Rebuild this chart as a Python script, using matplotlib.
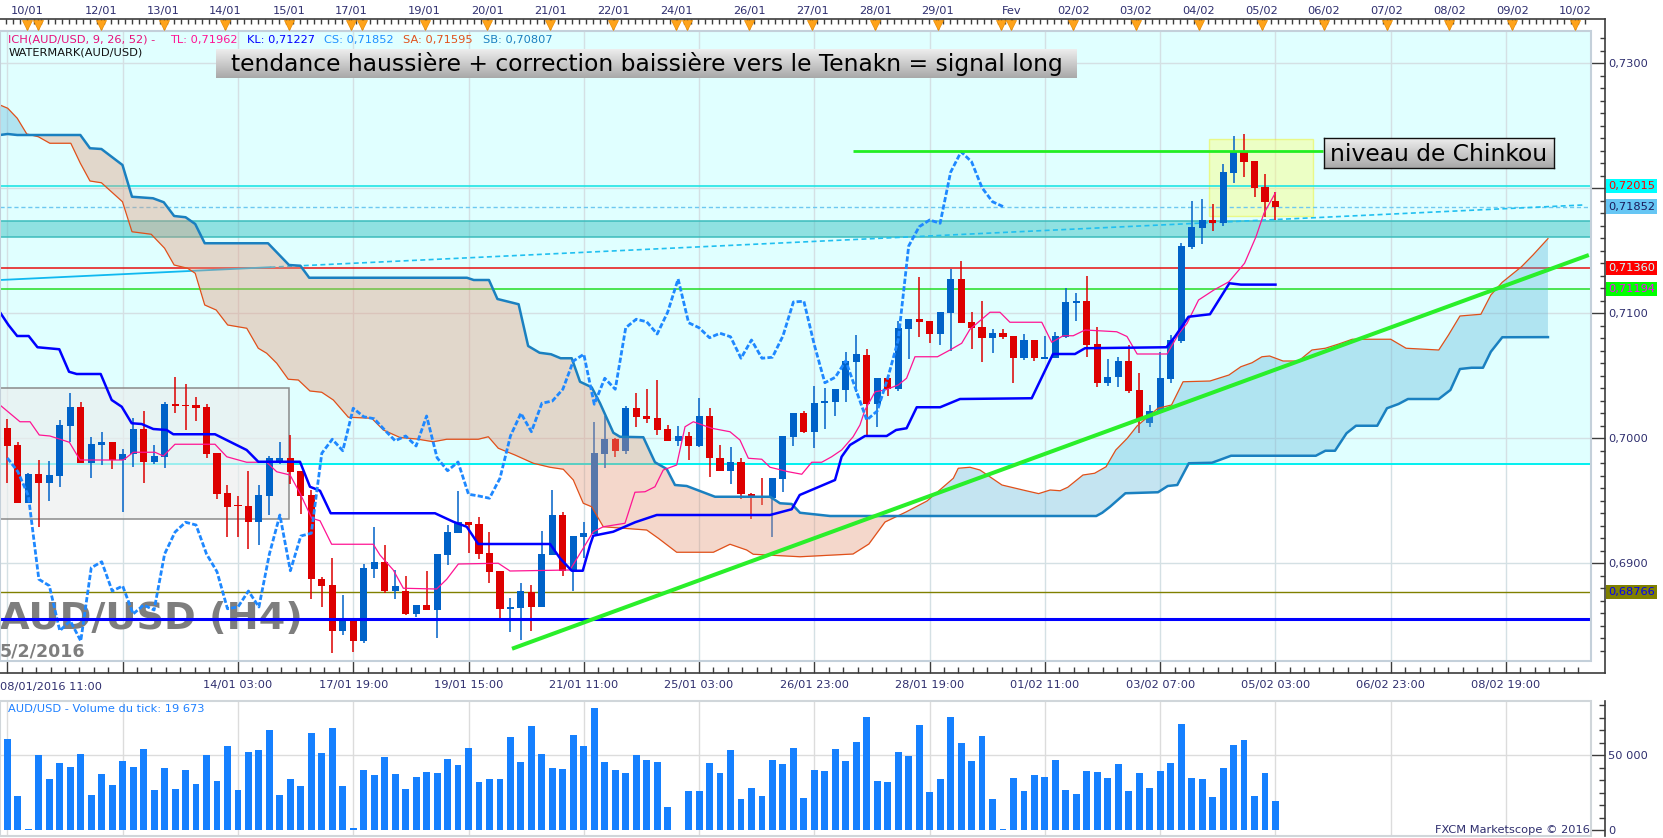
import numpy as np
import matplotlib
matplotlib.use("Agg")
import matplotlib.pyplot as plt
from matplotlib.lines import Line2D
from matplotlib.patches import Rectangle
from matplotlib.ticker import FixedLocator, MultipleLocator, FuncFormatter
from matplotlib.transforms import blended_transform_factory

W, H, DPI = 1663, 838, 100
PT = 72 / DPI  # points per pixel

INK = "#3c3c3c"
LABEL = "#2e2e6e"
UP = "#0062c8"
DOWN = "#dd0000"

# ---------------- AUD/USD H4 candles ----------------
opens = [0.70078, 0.69944, 0.69482, 0.69712, 0.69642, 0.69698, 0.70098, 0.70248, 0.69802, 0.69946,
         0.69968, 0.69824, 0.69872, 0.70072, 0.69810, 0.69850, 0.70272, 0.70264, 0.70262, 0.70248,
         0.69880, 0.69560, 0.69462, 0.69456, 0.69330, 0.69538, 0.69806, 0.69840, 0.69736, 0.69546,
         0.68872, 0.68824, 0.68458, 0.68536, 0.68376, 0.68952, 0.69010, 0.68776, 0.68778, 0.68592,
         0.68664, 0.68624, 0.69066, 0.69240, 0.69326, 0.69312, 0.69082, 0.68938, 0.68634, 0.68640,
         0.68770, 0.68648, 0.69064, 0.69382, 0.68938, 0.69210, 0.69232, 0.69872, 0.69990, 0.69898,
         0.70238, 0.70176, 0.70160, 0.70070, 0.69978, 0.70016, 0.69936, 0.70176, 0.69842, 0.69738,
         0.69808, 0.69552, 0.69530, 0.69518, 0.69674, 0.70010, 0.70198, 0.70050, 0.70278, 0.70290,
         0.70384, 0.70610, 0.70664, 0.70270, 0.70478, 0.70390, 0.70872, 0.70950, 0.70936, 0.70832,
         0.71002, 0.71272, 0.70926, 0.70890, 0.70802, 0.70838, 0.70816, 0.70638, 0.70784, 0.70634,
         0.70642, 0.70810, 0.71082, 0.71096, 0.70752, 0.70442, 0.70486, 0.70618, 0.70384, 0.70122,
         0.70210, 0.70470, 0.70776, 0.71530, 0.71682, 0.71744, 0.71718, 0.72122, 0.72290, 0.72216,
         0.72008, 0.71896]
highs = [0.70150, 0.69968, 0.69717, 0.69824, 0.69816, 0.70144, 0.70360, 0.70290, 0.70010, 0.70048,
         0.69970, 0.69910, 0.70158, 0.70218, 0.69944, 0.70288, 0.70488, 0.70432, 0.70330, 0.70272,
         0.69880, 0.69624, 0.69538, 0.69736, 0.69624, 0.69856, 0.69968, 0.70022, 0.69736, 0.69584,
         0.68886, 0.69038, 0.68744, 0.68536, 0.68992, 0.69286, 0.69142, 0.68944, 0.68896, 0.68664,
         0.68936, 0.69072, 0.69304, 0.69576, 0.69326, 0.69370, 0.69248, 0.68938, 0.68718, 0.68838,
         0.68824, 0.69256, 0.69584, 0.69406, 0.69216, 0.69326, 0.70126, 0.70176, 0.70000, 0.70256,
         0.70358, 0.70390, 0.70464, 0.70108, 0.70096, 0.70050, 0.70322, 0.70242, 0.69944, 0.69926,
         0.69842, 0.69560, 0.69678, 0.69678, 0.70016, 0.70198, 0.70216, 0.70416, 0.70398, 0.70390,
         0.70690, 0.70824, 0.70712, 0.70478, 0.70478, 0.70938, 0.70950, 0.71290, 0.70936, 0.71006,
         0.71352, 0.71416, 0.71010, 0.71096, 0.70872, 0.70872, 0.70816, 0.70832, 0.70784, 0.70816,
         0.70848, 0.71202, 0.71158, 0.71296, 0.70890, 0.70630, 0.70650, 0.70744, 0.70518, 0.70264,
         0.70690, 0.70824, 0.71560, 0.71898, 0.71912, 0.71872, 0.72190, 0.72416, 0.72432, 0.72216,
         0.72112, 0.71966]
lows = [0.69642, 0.69480, 0.69480, 0.69286, 0.69498, 0.69610, 0.69970, 0.69800, 0.69682, 0.69786,
        0.69750, 0.69410, 0.69770, 0.69642, 0.69792, 0.69758, 0.70202, 0.70066, 0.70138, 0.69842,
        0.69514, 0.69210, 0.69206, 0.69114, 0.69146, 0.69386, 0.69790, 0.69634, 0.69394, 0.68714,
        0.68650, 0.68282, 0.68426, 0.68290, 0.68362, 0.68882, 0.68758, 0.68714, 0.68584, 0.68570,
        0.68624, 0.68402, 0.68986, 0.69240, 0.69078, 0.69030, 0.68842, 0.68558, 0.68450, 0.68384,
        0.68460, 0.68648, 0.69064, 0.68898, 0.68778, 0.69040, 0.69230, 0.69762, 0.69850, 0.69872,
        0.70090, 0.70118, 0.70024, 0.69978, 0.69936, 0.69824, 0.69926, 0.69690, 0.69738, 0.69632,
        0.69510, 0.69354, 0.69464, 0.69206, 0.69570, 0.69934, 0.70040, 0.69922, 0.70072, 0.70176,
        0.70290, 0.70370, 0.70024, 0.70090, 0.70336, 0.70380, 0.70630, 0.70810, 0.70762, 0.70744,
        0.70698, 0.70922, 0.70712, 0.70606, 0.70682, 0.70790, 0.70442, 0.70624, 0.70616, 0.70634,
        0.70640, 0.70798, 0.70938, 0.70650, 0.70410, 0.70416, 0.70410, 0.70358, 0.70042, 0.70086,
        0.70210, 0.70438, 0.70760, 0.71510, 0.71550, 0.71656, 0.71700, 0.72042, 0.72090, 0.71930,
        0.71770, 0.71744]
closes = [0.69938, 0.69482, 0.69712, 0.69642, 0.69704, 0.70104, 0.70248, 0.69802, 0.69950, 0.69966,
          0.69824, 0.69872, 0.70072, 0.69810, 0.69856, 0.70272, 0.70258, 0.70256, 0.70242, 0.69874,
          0.69554, 0.69450, 0.69454, 0.69330, 0.69544, 0.69838, 0.69840, 0.69730, 0.69538, 0.68870,
          0.68818, 0.68458, 0.68538, 0.68376, 0.68962, 0.69010, 0.68776, 0.68816, 0.68592, 0.68664,
          0.68624, 0.69072, 0.69248, 0.69326, 0.69304, 0.69072, 0.68930, 0.68634, 0.68648, 0.68776,
          0.68648, 0.69072, 0.69384, 0.68938, 0.69216, 0.69238, 0.69878, 0.69990, 0.69898, 0.70238,
          0.70170, 0.70154, 0.70064, 0.69978, 0.70016, 0.69936, 0.70176, 0.69842, 0.69738, 0.69808,
          0.69550, 0.69536, 0.69518, 0.69678, 0.70016, 0.70198, 0.70050, 0.70278, 0.70296, 0.70390,
          0.70616, 0.70670, 0.70270, 0.70478, 0.70390, 0.70882, 0.70950, 0.70930, 0.70832, 0.71006,
          0.71272, 0.70922, 0.70882, 0.70802, 0.70838, 0.70810, 0.70638, 0.70784, 0.70638, 0.70646,
          0.70816, 0.71088, 0.71094, 0.70744, 0.70442, 0.70486, 0.70618, 0.70378, 0.70144, 0.70216,
          0.70478, 0.70784, 0.71536, 0.71690, 0.71744, 0.71718, 0.72126, 0.72290, 0.72210, 0.72002,
          0.71890, 0.71852]
volumes = [61200, 23000, 500, 50200, 34200, 44900, 42400, 50900, 23700, 37500,
           30100, 46200, 42400, 54500, 26800, 41500, 27500, 40200, 30800, 50200,
           32800, 56300, 26800, 52200, 53600, 67000, 23700, 34200, 29500, 65000,
           51600, 68300, 29500, 1100, 40200, 36800, 48900, 37500, 27500, 35500,
           38800, 38200, 47500, 43500, 54900, 32100, 34200, 34200, 62300, 45500,
           69600, 50900, 41500, 40800, 63600, 56300, 81700, 45500, 40200, 38200,
           50200, 46900, 45500, 15400, 300, 26100, 26100, 44900, 38200, 53600,
           20800, 28100, 22800, 46900, 44200, 54900, 21400, 40200, 39500, 54200,
           46200, 58900, 75700, 32800, 32100, 52200, 49600, 70300, 25400, 34200,
           75700, 58300, 46200, 62900, 20800, 700, 34800, 26100, 36800, 35500,
           46900, 26800, 24100, 39500, 38800, 34800, 44200, 26100, 38200, 28100,
           39500, 44900, 71000, 34800, 34200, 22100, 41500, 56900, 60300, 22800,
           38200, 19673]

# ---------------- Ichimoku lines as (candle index, price) vertices ----------------
tenkan = [(-0.71, 0.70264), (1.20, 0.70130), (2.16, 0.70130), (3.04, 0.70024), (4.06, 0.70016),
          (4.95, 0.69992), (5.91, 0.69966), (6.93, 0.69824), (11.06, 0.69824), (12.01, 0.69886),
          (14.08, 0.69886), (14.88, 0.69856), (15.99, 0.69950), (19.81, 0.69950), (20.93, 0.69850),
          (22.83, 0.69806), (24.74, 0.69806), (25.70, 0.69730), (26.97, 0.69704), (27.92, 0.69558),
          (29.04, 0.69358), (29.83, 0.69338), (30.94, 0.69150), (34.91, 0.69150), (35.55, 0.69064),
          (36.82, 0.68944), (37.78, 0.68798), (40.96, 0.68792), (41.92, 0.68870), (43.03, 0.68992),
          (46.84, 0.68998), (47.96, 0.68936), (53.68, 0.68944), (55.90, 0.69250), (56.86, 0.69290),
          (58.93, 0.69318), (59.88, 0.69566), (60.84, 0.69570), (61.79, 0.69610), (62.58, 0.69744),
          (63.86, 0.69784), (64.66, 0.70090), (65.45, 0.70130), (67.20, 0.70078), (68.95, 0.70050),
          (69.90, 0.69984), (70.70, 0.69838), (71.98, 0.69830), (72.77, 0.69766), (74.52, 0.69730),
          (75.80, 0.69710), (76.75, 0.69806), (77.70, 0.69806), (78.65, 0.69850), (79.60, 0.69904),
          (80.70, 0.70010), (81.35, 0.70104), (81.83, 0.70224), (82.80, 0.70370), (83.74, 0.70384),
          (85.00, 0.70424), (85.80, 0.70478), (86.60, 0.70650), (88.75, 0.70650), (89.94, 0.70704),
          (91.06, 0.70758), (91.85, 0.70870), (93.76, 0.71006), (94.71, 0.71006), (95.66, 0.70926),
          (98.70, 0.70926), (99.65, 0.70766), (100.75, 0.70818), (101.70, 0.70818), (102.83, 0.70864),
          (105.85, 0.70850), (106.83, 0.70812), (107.80, 0.70672), (110.65, 0.70672), (111.80, 0.70838),
          (112.56, 0.70918), (113.66, 0.71104), (115.12, 0.71184), (116.56, 0.71250), (118.05, 0.71398),
          (119.14, 0.71610), (119.90, 0.71798), (121.00, 0.71962)]
kijun = [(-0.71, 0.71006), (0.10, 0.70904), (0.93, 0.70816), (2.03, 0.70816), (2.87, 0.70726),
         (4.95, 0.70710), (5.88, 0.70530), (6.61, 0.70512), (8.90, 0.70512), (9.95, 0.70304),
         (10.91, 0.70250), (11.86, 0.70118), (12.81, 0.70112), (13.92, 0.70072), (15.20, 0.70064),
         (15.83, 0.70030), (19.81, 0.70030), (21.53, 0.69958), (22.83, 0.69904), (23.94, 0.69810),
         (27.92, 0.69810), (28.87, 0.69610), (29.83, 0.69578), (30.85, 0.69398), (40.80, 0.69398),
         (42.55, 0.69330), (43.83, 0.69290), (44.93, 0.69152), (51.78, 0.69152), (52.73, 0.69038),
         (53.85, 0.68938), (54.90, 0.68938), (55.60, 0.69144), (55.90, 0.69218), (57.80, 0.69250),
         (59.90, 0.69326), (61.96, 0.69384), (72.77, 0.69384), (74.84, 0.69430), (75.60, 0.69544),
         (78.97, 0.69664), (79.60, 0.69850), (80.40, 0.69944), (81.83, 0.70016), (83.90, 0.70016),
         (84.80, 0.70064), (85.80, 0.70078), (86.77, 0.70246), (89.00, 0.70246), (90.90, 0.70312),
         (97.74, 0.70318), (99.77, 0.70672), (101.87, 0.70672), (102.82, 0.70718), (110.60, 0.70726),
         (111.40, 0.70810), (112.70, 0.70970), (114.75, 0.70990), (116.60, 0.71238), (117.70, 0.71227),
         (121.00, 0.71227)]
senkou_a = [(-0.71, 0.72664), (0.03, 0.72638), (0.94, 0.72558), (1.85, 0.72432), (2.95, 0.72410),
            (4.05, 0.72358), (6.05, 0.72358), (6.96, 0.72198), (7.88, 0.72056), (8.97, 0.72042),
            (10.98, 0.71890), (11.89, 0.71650), (13.72, 0.71630), (15.00, 0.71518), (15.91, 0.71384),
            (17.19, 0.71358), (17.92, 0.71318), (18.83, 0.71064), (19.92, 0.71024), (21.02, 0.70904),
            (22.84, 0.70878), (23.94, 0.70718), (24.74, 0.70678), (25.70, 0.70598), (26.80, 0.70470),
            (27.76, 0.70464), (28.87, 0.70376), (29.99, 0.70366), (31.10, 0.70304), (32.53, 0.70166),
            (34.76, 0.70158), (35.87, 0.70064), (37.46, 0.70004), (39.05, 0.69992), (40.64, 0.69970),
            (41.92, 0.69990), (44.93, 0.69990), (45.89, 0.70010), (46.84, 0.69918), (48.43, 0.69864),
            (50.18, 0.69798), (51.77, 0.69766), (53.04, 0.69750), (54.00, 0.69664), (54.95, 0.69478),
            (55.75, 0.69450), (56.86, 0.69290), (61.00, 0.69264), (62.11, 0.69198), (63.86, 0.69086),
            (67.36, 0.69086), (68.95, 0.69150), (70.54, 0.69104), (71.17, 0.69070), (75.63, 0.69050),
            (80.69, 0.69072), (82.20, 0.69152), (83.74, 0.69328), (85.74, 0.69408), (87.75, 0.69496),
            (90.26, 0.69678), (90.73, 0.69758), (91.85, 0.69766), (92.80, 0.69744), (94.90, 0.69624),
            (96.90, 0.69584), (98.40, 0.69555), (99.50, 0.69584), (100.45, 0.69578), (101.18, 0.69606),
            (102.63, 0.69704), (103.74, 0.69718), (104.83, 0.69770), (105.76, 0.69904), (106.86, 0.69998),
            (107.79, 0.70096), (109.79, 0.70238), (111.08, 0.70264), (112.18, 0.70450), (114.75, 0.70456),
            (116.56, 0.70504), (117.69, 0.70570), (118.76, 0.70602), (119.71, 0.70650), (120.44, 0.70656),
            (121.72, 0.70616), (123.20, 0.70616), (124.48, 0.70704), (125.76, 0.70718), (127.04, 0.70752),
            (128.33, 0.70790), (132.00, 0.70790), (133.46, 0.70718), (136.58, 0.70704), (137.51, 0.70824),
            (138.60, 0.70976), (140.60, 0.70990), (141.55, 0.71144), (142.64, 0.71246), (144.47, 0.71370),
            (145.57, 0.71464), (147.00, 0.71595)]
senkou_b = [(-0.71, 0.72424), (0.03, 0.72432), (0.94, 0.72424), (6.96, 0.72424), (7.88, 0.72318),
            (8.97, 0.72312), (10.98, 0.72184), (11.89, 0.71930), (13.89, 0.71918), (14.92, 0.71886),
            (15.91, 0.71776), (17.00, 0.71766), (17.92, 0.71712), (18.83, 0.71558), (24.87, 0.71558),
            (26.87, 0.71384), (27.96, 0.71378), (28.80, 0.71282), (43.85, 0.71282), (44.50, 0.71264),
            (45.95, 0.71264), (46.76, 0.71112), (48.78, 0.71070), (49.69, 0.70736), (50.78, 0.70682),
            (51.87, 0.70670), (52.79, 0.70638), (53.85, 0.70638), (54.64, 0.70450), (55.75, 0.70406),
            (56.55, 0.70278), (57.82, 0.70042), (58.45, 0.70010), (60.68, 0.70006), (61.79, 0.69806),
            (62.91, 0.69752), (63.70, 0.69624), (64.82, 0.69616), (67.52, 0.69530), (72.77, 0.69530),
            (73.72, 0.69478), (74.84, 0.69472), (75.63, 0.69402), (78.50, 0.69376), (103.90, 0.69376),
            (104.47, 0.69402), (105.21, 0.69450), (106.68, 0.69558), (109.79, 0.69566), (110.72, 0.69616),
            (111.63, 0.69624), (112.73, 0.69798), (114.94, 0.69802), (116.76, 0.69858), (124.85, 0.69858),
            (125.76, 0.69898), (126.68, 0.69898), (127.78, 0.70038), (128.68, 0.70098), (130.71, 0.70098),
            (131.64, 0.70238), (132.74, 0.70272), (133.64, 0.70312), (136.58, 0.70312), (137.69, 0.70384),
            (138.60, 0.70552), (139.70, 0.70562), (140.80, 0.70562), (141.55, 0.70690), (142.64, 0.70806),
            (147.00, 0.70807)]
CHIKOU_SHIFT = 26

# ---------------- drawn levels / objects ----------------
zone_floor = 0.69792                 # bottom of the light cyan zone
band = (0.71606, 0.71736)            # turquoise band
level_cyan, level_close = 0.72015, 0.71852
level_red, level_green = 0.71360, 0.71194
level_olive, level_blue = 0.68766, 0.68552
chinkou_level, chinkou_span = 0.72298, (80.7, 125.5)
trend = [(48.15, 0.68314), (150.9, 0.71464)]
diagonal = [(-0.71, 0.71264), (150.3, 0.71864)]
diagonal_solid_until = 25.1
yellow_box = (114.66, 124.6, 0.71776, 0.72390)
gray_box = (-0.71, 26.84, 0.69350, 0.70398)

price_ticks = [0.69, 0.70, 0.71, 0.72, 0.73]
hidden_price_label = 0.72            # covered by the 0,72015 tag
bottom_ticks = list(range(0, 144, 11))
bottom_labels = ["", "", "14/01 03:00", "17/01 19:00", "19/01 15:00", "21/01 11:00", "25/01 03:00",
                 "26/01 23:00", "28/01 19:00", "01/02 11:00", "03/02 07:00", "05/02 03:00",
                 "06/02 23:00", "08/02 19:00"]
first_label = "08/01/2016 11:00"
day_pos = [1.9, 2.9, 8.9, 14.9, 20.8, 26.9, 32.8, 33.8, 39.8, 45.8, 51.8, 57.8, 63.8, 64.8, 70.8,
           76.8, 82.8, 88.8, 94.8, 95.8, 101.7, 107.7, 113.7, 119.7, 125.6, 131.6, 137.6, 143.6, 149.6]
day_labels = ["10/01", "", "12/01", "13/01", "14/01", "15/01", "17/01", "", "19/01", "20/01", "21/01",
              "22/01", "24/01", "", "26/01", "27/01", "28/01", "29/01", "", "Fev", "02/02", "03/02",
              "04/02", "05/02", "06/02", "07/02", "08/02", "09/02", "10/02"]

# ---------------- layout (pixels) ----------------
XLIM = (-0.706, 151.107)
YLIM = (0.682184, 0.73256)
MAIN = (0, 31, 1591, 660.7)
VOL = (0, 701, 1591, 836)

fig = plt.figure(figsize=(W / DPI, H / DPI), dpi=DPI)


def px_axes(x0, y0, x1, y1):
    return fig.add_axes([x0 / W, 1 - y1 / H, (x1 - x0) / W, (y1 - y0) / H])


def fig_line(x0, y0, x1, y1, **kw):
    fig.add_artist(Line2D([x0 / W, x1 / W], [1 - y0 / H, 1 - y1 / H], transform=fig.transFigure, **kw))


def price_fmt(v, pos):
    if abs(v - hidden_price_label) < 1e-9:
        return ""
    return f"{v:.4f}".replace(".", ",")


ax = px_axes(*MAIN)
ax.set_xlim(*XLIM)
ax.set_ylim(*YLIM)
ax.set_axisbelow(True)

# background zones
ax.axhspan(zone_floor, 0.75, color="#e0ffff", lw=0, zorder=0)
ax.axhline(zone_floor, color="#00f0f0", lw=1.4, zorder=1)
ax.axhspan(band[0], band[1], color="#40c4c4", alpha=0.5, lw=0, zorder=1)
for b in band:
    ax.axhline(b, color="#3cbcbc", lw=1.1, zorder=1)
gx0, gx1, gy0, gy1 = gray_box
ax.add_patch(Rectangle((gx0, gy0), gx1 - gx0, gy1 - gy0, fc="#eceeee", alpha=0.65, ec="none", zorder=1.2))
ax.add_patch(Rectangle((gx0, gy0), gx1 - gx0, gy1 - gy0, fill=False, ec="#8a8a8a", lw=1.1, zorder=1.3))
yx0, yx1, yy0, yy1 = yellow_box
ax.add_patch(Rectangle((yx0, yy0), yx1 - yx0, yy1 - yy0, fc="#ffff70", alpha=0.4, ec="#f0f000", lw=1, zorder=1.3))

# watermark
ax.text(0.0, 0.0662, "AUD/USD (H4)", transform=ax.transAxes, fontsize=27.5, fontweight="bold",
        color="#7e7e7e", ha="left", va="center", zorder=1.2)
ax.text(0.0, 0.0150, "5/2/2016", transform=ax.transAxes, fontsize=12.5, fontweight="bold",
        color="#7e7e7e", ha="left", va="center", zorder=1.25)

# horizontal levels
ax.axhline(level_cyan, color="#20e4e4", lw=1.2, zorder=2)
ax.axhline(level_close, color="#6ec8f0", lw=1.0, dashes=(3, 2), zorder=2)
ax.axhline(level_red, color="#e81010", lw=1.1, zorder=2)
ax.axhline(level_green, color="#22dd22", lw=1.1, zorder=2)
ax.axhline(level_olive, color="#808000", lw=1.0, zorder=2)

# light blue diagonal
(dx0, dy0), (dx1, dy1) = diagonal
dys = np.interp(diagonal_solid_until, [dx0, dx1], [dy0, dy1])
ax.plot([dx0, diagonal_solid_until], [dy0, dys], color="#10b8f0", lw=1.3, zorder=2)
ax.plot([diagonal_solid_until, dx1], [dys, dy1], color="#20c0f0", lw=1.2, dashes=(3, 2), zorder=2)

# candles
o, h, l, c = (np.array(v) for v in (opens, highs, lows, closes))
idx = np.arange(len(c))
cols = np.where(c > o, UP, DOWN)
ax.vlines(idx, l, h, colors=cols, lw=1.1, zorder=3)
body_lo = np.minimum(o, c)
body_h = np.maximum(np.abs(c - o), 0.00012)
ax.bar(idx, body_h, bottom=body_lo, width=0.68, color=cols, lw=0, zorder=3)

# kumo
sa_x, sa_y = np.array(senkou_a).T
sb_x, sb_y = np.array(senkou_b).T
grid = np.linspace(sa_x[0], sa_x[-1], 4000)
sa = np.interp(grid, sa_x, sa_y)
sb = np.interp(grid, sb_x, sb_y)
ax.fill_between(grid, sa, sb, where=sa >= sb, interpolate=True, color="#58b4d8", alpha=0.35, lw=0, zorder=3.5)
ax.fill_between(grid, sa, sb, where=sa < sb, interpolate=True, color="#e59a7b", alpha=0.39, lw=0, zorder=3.5)
ax.plot(sa_x, sa_y, color="#e0501a", lw=0.9, zorder=4)
ax.plot(sb_x, sb_y, color="#1a80c0", lw=1.8, zorder=4)

tk_x, tk_y = np.array(tenkan).T
kj_x, kj_y = np.array(kijun).T
ax.plot(tk_x, tk_y, color="#ff1493", lw=0.9, zorder=4.2)
ax.plot(kj_x, kj_y, color="#0000ff", lw=1.8, zorder=4.3)
ax.plot(idx[CHIKOU_SHIFT:] - CHIKOU_SHIFT, c[CHIKOU_SHIFT:], color="#1e88ff", lw=2.0,
        dashes=(1.9, 0.8), zorder=4.5)

# annotation lines on top
ax.axhline(level_blue, color="#0000ff", lw=2.2, zorder=5)
(tx0, ty0), (tx1, ty1) = trend
ax.plot([tx0, tx1], [ty0, ty1], color="#2aef2a", lw=2.9, zorder=5, solid_capstyle="butt")
ax.hlines(chinkou_level, *chinkou_span, color="#22ee22", lw=2.0, zorder=5)

# right price scale
for s in ("left", "top"):
    ax.spines[s].set_visible(False)
ax.spines["right"].set_position(("outward", 14 * PT))
ax.spines["bottom"].set_position(("outward", 12.6 * PT))
ax.spines["right"].set_color("none")
ax.spines["bottom"].set_color("none")
ax.yaxis.tick_right()
ax.set_yticks(price_ticks)
ax.yaxis.set_major_formatter(FuncFormatter(price_fmt))
ax.yaxis.set_minor_locator(MultipleLocator(0.001))
ax.tick_params(axis="y", which="major", direction="in", length=14 * PT, width=1, color=INK,
               labelsize=8.2, labelcolor=LABEL, pad=3 * PT)
ax.tick_params(axis="y", which="minor", direction="in", length=5 * PT, width=1, color=INK)

ax.set_xticks(bottom_ticks, labels=bottom_labels)
ax.xaxis.set_minor_locator(MultipleLocator(11 / 8))
ax.tick_params(axis="x", which="major", direction="in", length=12.6 * PT, width=1, color=INK,
               labelsize=8.2, labelcolor=LABEL, pad=5)
ax.tick_params(axis="x", which="minor", direction="in", length=6 * PT, width=1, color=INK)
ax.annotate(first_label, xy=(0, -0.0418), xycoords="axes fraction", ha="left", va="center",
            fontsize=8.2, color=LABEL, annotation_clip=False)
ax.grid(True, which="major", color="#d4e0e4", lw=1.0)
ax.add_patch(Rectangle((0, 0), 1, 1, transform=ax.transAxes, fill=False, ec="#c4d0da", lw=1.5,
                       clip_on=False, zorder=6))

# price tags
tags = [(level_cyan, "0,72015", "#00ffff", "#ff0000"),
        (level_close, "0,71852", "#66c6f4", "#1a1a5a"),
        (level_red, "0,71360", "#ff0000", "#c8ffff"),
        (level_green, "0,71194", "#00ff00", "#ff00ff"),
        (level_olive, "0,68766", "#808000", "#0000ff")]
for price, txt, bg, fg in tags:
    ax.annotate(txt, xy=(1, price), xycoords=("axes fraction", "data"), xytext=(12.2, 0),
                textcoords="offset points", ha="left", va="center", fontsize=8.2, color=fg,
                bbox=dict(boxstyle="square,pad=0.18", fc=bg, ec="none"), annotation_clip=False, zorder=20)

# top date scale
top = ax.secondary_xaxis(1 + 12 / (MAIN[3] - MAIN[1]))
top.set_xticks(day_pos, labels=day_labels)
top.xaxis.set_minor_locator(FixedLocator(np.arange(day_pos[0] - 2, XLIM[1], 6 / 9)))
top.tick_params(axis="x", which="major", direction="in", length=8, width=1, color=INK,
                labelsize=8.2, labelcolor=LABEL, pad=2.5)
top.tick_params(axis="x", which="minor", direction="in", length=5 * PT, width=1, color=INK)
for s in top.spines.values():
    s.set_color("none")
tri_y = 1 + (MAIN[1] - 24.5) / (MAIN[3] - MAIN[1])
ax.plot(day_pos, [tri_y] * len(day_pos), ls="none", marker="v", ms=7.6, mfc="#ffa31a", mec="#e88a00",
        mew=0.5, transform=blended_transform_factory(ax.transData, ax.transAxes), clip_on=False, zorder=7)

# ---------------- volume panel ----------------
axv = px_axes(*VOL)
axv.bar(idx, volumes, width=0.66, color="#1580ff", lw=0, zorder=2)
axv.set_xlim(*XLIM)
axv.set_ylim(-4016, 86340)
axv.set_xticks(bottom_ticks)
axv.tick_params(axis="x", length=0, labelbottom=False)
axv.grid(True, axis="x", color="#dcdcdc", lw=1.0)
axv.set_axisbelow(True)
axv.axhline(50000, color="#dcdcdc", lw=1.0, zorder=1)
for s in ("left", "top", "bottom"):
    axv.spines[s].set_visible(False)
axv.spines["right"].set_position(("outward", 14 * PT))
axv.spines["right"].set_color("none")
axv.yaxis.tick_right()
axv.set_yticks([0, 50000], labels=["0", "50 000"])
axv.yaxis.set_minor_locator(MultipleLocator(50000 / 6))
axv.tick_params(axis="y", which="major", direction="in", length=14 * PT, width=1, color=INK,
                labelsize=8.2, labelcolor=LABEL, pad=3 * PT)
axv.tick_params(axis="y", which="minor", direction="in", length=6 * PT, width=1, color=INK)
axv.add_patch(Rectangle((0, 0), 1, 1, transform=axv.transAxes, fill=False, ec="#d0d6da", lw=1.5,
                        clip_on=False, zorder=6))
axv.text(8 / 1591, (836 - 709) / 135, "AUD/USD - Volume du tick: 19 673", transform=axv.transAxes,
         fontsize=8.2, color="#1e80ff", ha="left", va="center")

# frame lines
fig_line(0, 19, 1605, 19, color=INK, lw=1.2)
fig_line(1605, 19, 1605, 673.3, color=INK, lw=1.2)
fig_line(0, 673.3, 1605, 673.3, color=INK, lw=1.2)
fig_line(1605, 701, 1605, 836, color=INK, lw=1.2)

# indicator header
header = [("ICH(AUD/USD, 9, 26, 52) -", 8.4, "#e8107a"),
          ("TL: 0,71962", 170, "#ff1493"),
          ("KL: 0,71227", 247, "#0000ff"),
          ("CS: 0,71852", 324.5, "#1e90ff"),
          ("SA: 0,71595", 402.6, "#e0501a"),
          ("SB: 0,70807", 483, "#1a80c0")]
for txt, x, col in header:
    fig.text(x / W, 1 - 39.5 / H, txt, fontsize=8.2, color=col, ha="left", va="center")
fig.text(8.4 / W, 1 - 52.7 / H, "WATERMARK(AUD/USD)", fontsize=8.2, color="#111111", ha="left", va="center")
fig.text(1590 / W, 1 - 830 / H, "FXCM Marketscope \u00a9 2016", fontsize=8.2, color=LABEL,
         ha="right", va="center")


# gradient comment boxes
def comment_box(x0, y0, x1, y1, text, border):
    bx = px_axes(x0, y0, x1, y1)
    grad = np.linspace(0.93, 0.66, 64).reshape(-1, 1)
    bx.imshow(grad, cmap="gray", vmin=0, vmax=1, aspect="auto", extent=(0, 1, 0, 1))
    bx.set_xlim(0, 1)
    bx.set_ylim(0, 1)
    bx.set_xticks([])
    bx.set_yticks([])
    for s in bx.spines.values():
        s.set_visible(border)
        s.set_color("#111111")
        s.set_linewidth(1.0)
    bx.text(0.5, 0.47, text, ha="center", va="center", fontsize=16.8, color="black")


comment_box(216, 49.3, 1077, 77.7, "tendance haussière + correction baissière vers le Tenakn = signal long", False)
comment_box(1323.5, 138.3, 1554, 168.3, "niveau de Chinkou", True)

fig.savefig("out.png", dpi=DPI)
